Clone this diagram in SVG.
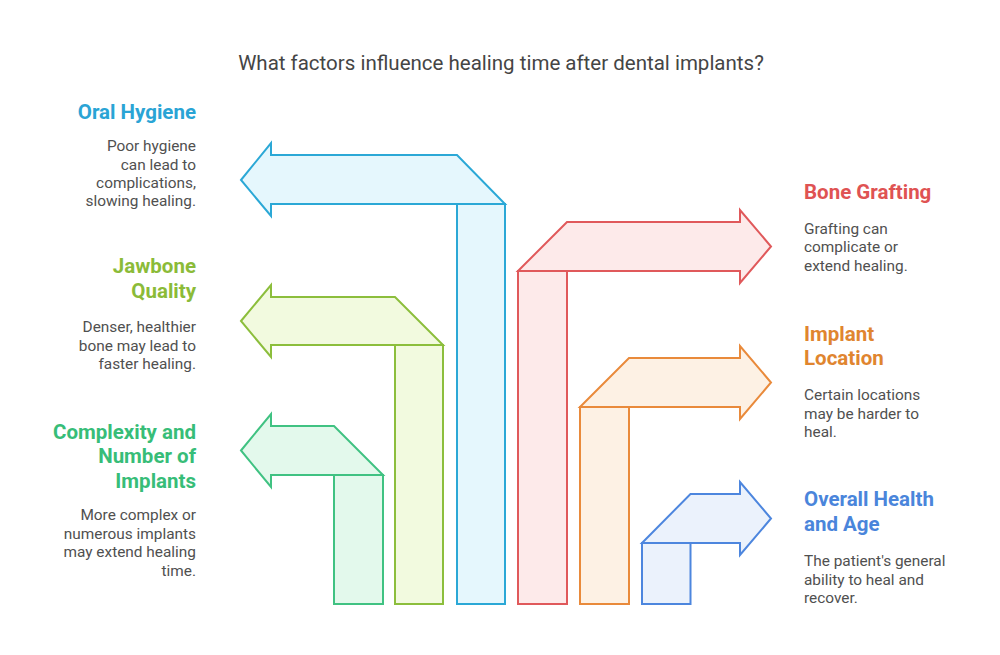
<svg xmlns="http://www.w3.org/2000/svg" width="1000" height="655" viewBox="0 0 1000 655">
<style>
text{font-family:Roboto,"Liberation Sans",sans-serif}
.title{font-size:20.5px;fill:#454545;text-anchor:middle}
.h{font-size:20.5px;font-weight:bold}
.b{font-size:15.4px;fill:#505050}
.l{text-anchor:end}
.s{stroke-width:2;stroke-linejoin:miter}
.c1 .s{fill:#e5f7fd;stroke:#2ba8d6}.c1 .h{fill:#2aa4d5}
.c2 .s{fill:#f2fadf;stroke:#8cbe3c}.c2 .h{fill:#8bbb38}
.c3 .s{fill:#e3f9ec;stroke:#40c282}.c3 .h{fill:#37bd78}
.c4 .s{fill:#fdeaea;stroke:#e0595b}.c4 .h{fill:#df5353}
.c5 .s{fill:#fdf1e4;stroke:#e98a3b}.c5 .h{fill:#e0852f}
.c6 .s{fill:#ebf2fc;stroke:#4d86de}.c6 .h{fill:#4a85db}
</style>
<rect width="1000" height="655" fill="#ffffff"/>
<text class="title" x="501" y="69.5">What factors influence healing time after dental implants?</text>

<g id="oral-hygiene" class="c1">
<rect class="s" x="457" y="204" width="48" height="400"/>
<polygon class="s" points="241,180 271,143 271,155 457,155 505,204 271,204 271,216"/>
<text class="h l" x="196" y="118.5">Oral Hygiene</text>
<text class="b l" x="196" y="151">Poor hygiene </text>
<text class="b l" x="196" y="169.5">can lead to</text>
<text class="b l" x="196" y="188">complications,</text>
<text class="b l" x="196" y="206">slowing healing.</text>
</g>

<g id="jawbone-quality" class="c2">
<rect class="s" x="395" y="345" width="48" height="259"/>
<polygon class="s" points="241,321 271,285 271,297 395,297 443,345 271,345 271,357"/>
<text class="h l" x="196" y="273">Jawbone</text>
<text class="h l" x="196" y="297.5">Quality</text>
<text class="b l" x="196" y="332">Denser, healthier</text>
<text class="b l" x="196" y="350.5">bone may lead to</text>
<text class="b l" x="196" y="369">faster healing.</text>
</g>

<g id="complexity" class="c3">
<rect class="s" x="334" y="475" width="49" height="129"/>
<polygon class="s" points="241,450.5 271,414 271,426 334,426 383,475 271,475 271,487"/>
<text class="h l" x="196" y="438.5">Complexity and</text>
<text class="h l" x="196" y="463">Number of</text>
<text class="h l" x="196" y="487.5">Implants</text>
<text class="b l" x="196" y="520">More complex or</text>
<text class="b l" x="196" y="538.5">numerous implants</text>
<text class="b l" x="196" y="557">may extend healing</text>
<text class="b l" x="196" y="575.5">time.</text>
</g>

<g id="bone-grafting" class="c4">
<rect class="s" x="518" y="271" width="49" height="333"/>
<polygon class="s" points="518,271 567,222 740,222 740,210 771,246.5 740,283 740,271"/>
<text class="h" x="804" y="198.5">Bone Grafting</text>
<text class="b" x="804" y="233.5">Grafting can</text>
<text class="b" x="804" y="252">complicate or</text>
<text class="b" x="804" y="270.5">extend healing.</text>
</g>

<g id="implant-location" class="c5">
<rect class="s" x="580" y="407" width="49" height="197"/>
<polygon class="s" points="580,407 629,358 740,358 740,346 771,382.5 740,419 740,407"/>
<text class="h" x="804" y="340.5">Implant</text>
<text class="h" x="804" y="365">Location</text>
<text class="b" x="804" y="400">Certain locations</text>
<text class="b" x="804" y="418.5">may be harder to</text>
<text class="b" x="804" y="437">heal.</text>
</g>

<g id="overall-health" class="c6">
<rect class="s" x="642" y="543" width="48.5" height="61"/>
<polygon class="s" points="642,543 690.5,494 740,494 740,482 771,518.5 740,555 740,543"/>
<text class="h" x="804" y="506">Overall Health</text>
<text class="h" x="804" y="530.5">and Age</text>
<text class="b" x="804" y="566">The patient's general</text>
<text class="b" x="804" y="584.5">ability to heal and</text>
<text class="b" x="804" y="603">recover.</text>
</g>

<g id="connectors"></g>
</svg>
